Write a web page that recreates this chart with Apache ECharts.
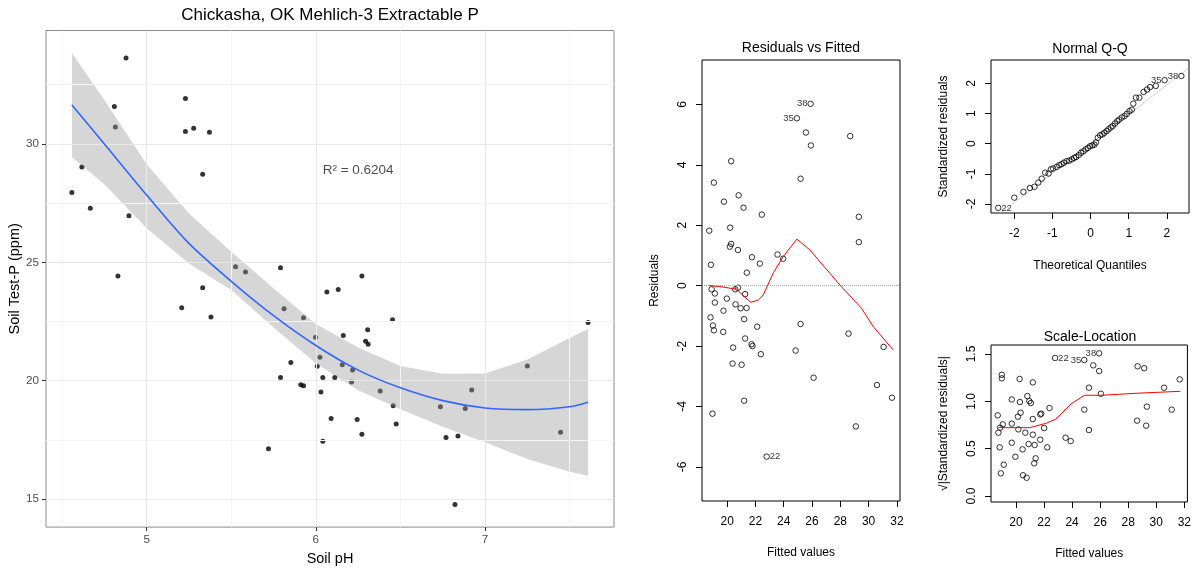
<!DOCTYPE html>
<html><head><meta charset="utf-8">
<script src="https://cdn.jsdelivr.net/npm/echarts@6/dist/echarts.min.js"></script>
<style>html,body{margin:0;padding:0;background:#fff}#c{width:1194px;height:571px}</style>
</head><body><div id="c"></div>
<script>
// ---------- Main panel: Soil pH vs Soil Test-P ----------
const mainTitle = 'Chickasha, OK Mehlich-3 Extractable P';
const mainPoints = [
  [4.558,27.95],[4.617,29.03],[4.667,27.28],[4.878,33.63],[4.809,31.58],[4.815,30.72],[4.895,26.97],[4.830,24.42],
  [5.229,31.92],[5.229,30.53],[5.278,30.66],[5.371,30.49],[5.331,28.72],[5.331,23.93],[5.525,24.81],[5.584,24.59],
  [5.791,24.77],[6.065,23.75],[6.132,23.85],[5.207,23.08],[5.380,22.69],[5.812,23.04],[5.927,22.66],[5.998,21.84],
  [6.024,20.99],[6.008,20.61],[6.041,20.14],[6.112,20.14],[5.852,20.77],[5.791,20.14],[5.911,19.83],[5.927,19.79],
  [6.030,19.53],[6.090,18.41],[6.041,17.44],[5.720,17.13],[6.272,24.42],[6.162,21.91],[6.156,20.68],[6.217,20.45],
  [6.211,19.95],[6.244,18.36],[6.272,17.74],[6.306,22.15],[6.294,21.67],[6.309,21.54],[6.453,22.58],[6.380,19.57],
  [6.457,18.94],[6.475,18.17],[6.736,18.90],[6.769,17.60],[6.840,17.67],[6.822,14.77],[6.883,18.83],[6.921,19.61],
  [7.250,20.62],[7.446,17.82],[7.609,22.46]
];
const fitX      = [4.558, 4.75, 5.0, 5.25, 5.5, 5.75, 6.0, 6.25, 6.5, 6.75, 7.0, 7.25, 7.5, 7.609];
const fitY      = [31.64, 30.0, 27.84, 25.8, 24.2, 22.75, 21.49, 20.45, 19.7, 19.16, 18.85, 18.78, 18.9, 19.09];
const bandUpper = [33.84, 31.85, 29.14, 27.06, 25.45, 23.91, 22.4, 21.4, 20.62, 20.3, 20.31, 20.9, 21.8, 22.19];
const bandLower = [29.44, 28.3, 26.44, 24.95, 23.83, 22.25, 20.74, 19.6, 18.8, 18.06, 17.4, 16.7, 16.16, 15.98];
const mainXTicks = [5, 6, 7];
const mainYTicks = [15, 20, 25, 30];
const mainXMinor = [4.5, 5.5, 6.5, 7.5];
const mainYMinor = [17.5, 22.5, 27.5, 32.5];
const r2Text = 'R² = 0.6204';
const r2Pos = [6.25, 28.9];

// ---------- Residuals vs Fitted ----------
const rvfPoints = [
  [25.90,6.02],[24.93,5.54],[25.57,5.07],[25.92,4.64],[28.70,4.95],[25.19,3.54],[20.28,4.12],[19.06,3.41],
  [19.77,2.78],[20.81,2.99],[21.16,2.58],[22.45,2.35],[18.73,1.82],[20.21,1.92],[29.31,2.28],[29.31,1.44],
  [20.28,1.38],[20.19,1.29],[20.76,1.18],[23.56,1.03],[23.96,0.89],[21.75,0.94],[22.31,0.73],[18.85,0.69],
  [21.39,0.43],[18.90,-0.12],[19.13,-0.26],[20.76,-0.07],[20.57,-0.12],[19.98,-0.43],[21.27,-0.28],[20.59,-0.62],
  [20.95,-0.75],[21.37,-0.74],[19.13,-0.56],[19.74,-0.83],[18.82,-1.05],[21.20,-1.11],[18.99,-1.32],[19.06,-1.48],
  [19.72,-1.53],[22.12,-1.36],[25.19,-1.27],[28.58,-1.59],[21.27,-1.75],[21.72,-1.94],[21.79,-2.0],[20.42,-2.05],
  [24.84,-2.15],[22.38,-2.27],[31.06,-2.03],[20.38,-2.58],[21.02,-2.62],[26.11,-3.05],[30.59,-3.29],[31.65,-3.71],
  [21.20,-3.81],[18.96,-4.24],[29.10,-4.66],[22.79,-5.66]
];
const rvfSmoothX = [18.73, 19.48, 20.66, 21.2, 21.68, 22.2, 22.55, 23.25, 23.96, 24.93, 25.85, 27.97, 29.5, 30.33, 31.74];
const rvfSmoothY = [0, -0.03, -0.12, -0.36, -0.55, -0.48, -0.31, 0.41, 0.96, 1.54, 1.18, 0.02, -0.75, -1.36, -2.13];
const rvfLabels = [['38', 25.90, 6.02, 'left'], ['35', 24.93, 5.54, 'left'], ['22', 22.79, -5.66, 'right']];
const fittedTicks = [20, 22, 24, 26, 28, 30, 32];
const residTicks = [-6, -4, -2, 0, 2, 4, 6];

// ---------- Normal Q-Q ----------
const qqTheo = [-2.42,-2.0,-1.76,-1.59,-1.47,-1.37,-1.28,-1.19,-1.10,-1.04,-0.98,-0.89,-0.82,-0.76,-0.70,-0.63,-0.56,-0.49,-0.43,-0.38,
  -0.31,-0.25,-0.19,-0.13,-0.07,-0.01,0.05,0.10,0.14,0.19,0.25,0.31,0.36,0.42,0.47,0.53,0.58,0.64,0.70,0.75,
  0.82,0.89,0.95,1.02,1.08,1.12,1.19,1.28,1.39,1.48,1.56,1.71,1.94,2.38];
const qqStd = [-2.13,-1.79,-1.60,-1.47,-1.43,-1.29,-1.16,-0.96,-0.99,-0.85,-0.82,-0.77,-0.71,-0.68,-0.63,-0.58,-0.56,-0.52,-0.47,-0.44,
  -0.38,-0.30,-0.25,-0.19,-0.14,-0.08,-0.05,-0.03,0.04,0.20,0.28,0.31,0.36,0.42,0.48,0.54,0.59,0.67,0.75,0.80,
  0.87,0.92,0.99,1.08,1.13,1.33,1.53,1.53,1.72,1.80,1.88,1.92,2.11,2.25];
const qqLine = [[-2.61, -2.55], [2.58, 2.52]];
const qqLabels = [['22', -2.42, -2.13, 'right'], ['35', 1.94, 2.11, 'left'], ['38', 2.38, 2.25, 'left']];
const qqTicks = [-2, -1, 0, 1, 2];

// ---------- Scale-Location ----------
const slPoints = [
  [22.79,1.458],[24.87,1.437],[25.93,1.507],[25.51,1.38],[25.93,1.32],[25.2,1.144],[26.05,1.08],[28.67,1.37],
  [29.14,1.35],[30.56,1.144],[31.67,1.232],[31.1,0.912],[29.33,0.944],[28.63,0.796],[29.28,0.743],[24.87,0.912],
  [25.2,0.697],[23.54,0.616],[23.9,0.58],[18.99,1.28],[18.99,1.243],[20.26,1.236],[21.2,1.2],[19.7,1.02],
  [20.28,0.993],[20.81,1.056],[20.95,1.003],[21.06,0.982],[22.39,0.93],[18.7,0.852],[20.14,0.838],[20.33,0.88],
  [21.73,0.862],[21.8,0.87],[21.2,0.813],[19.06,0.757],[19.7,0.764],[18.87,0.722],[20.17,0.704],[22.01,0.718],
  [18.75,0.669],[20.67,0.669],[21.2,0.648],[19.7,0.563],[21.73,0.595],[20.9,0.549],[21.33,0.539],[18.84,0.514],
  [20.47,0.493],[22.23,0.514],[19.96,0.415],[21.4,0.398],[21.3,0.345],[19.13,0.331],[18.92,0.24],[20.5,0.219],
  [20.76,0.193]
];
const slSmoothX = [18.75, 20.97, 22.15, 22.86, 23.92, 24.87, 26.05, 28.53, 31.72];
const slSmoothY = [0.722, 0.722, 0.768, 0.813, 0.972, 1.064, 1.064, 1.085, 1.106];
const slLabels = [['22', 22.79, 1.458, 'right'], ['35', 24.87, 1.437, 'left'], ['38', 25.93, 1.507, 'left']];
const slTicks = [0, 0.5, 1, 1.5];

// ---------- build ----------
const FONT = '"Liberation Sans", Arial, sans-serif';
const zip = (xs, ys) => xs.map((x, i) => [x, ys[i]]);

function rAxisX(idx, min, max, ticks, name, gap) {
  return {
    gridIndex: idx, type: 'value', min: min, max: max,
    axisLine: {show: false, onZero: false}, splitLine: {show: false},
    axisTick: {show: true, customValues: ticks, length: 6, lineStyle: {color: '#000', width: 1}},
    axisLabel: {customValues: ticks, color: '#000', fontSize: 12, fontFamily: FONT, margin: 15},
    name: name, nameLocation: 'middle', nameGap: gap,
    nameTextStyle: {color: '#000', fontSize: 12, fontFamily: FONT}
  };
}
function rAxisY(idx, min, max, ticks, name, fmt) {
  return {
    gridIndex: idx, type: 'value', min: min, max: max,
    axisLine: {show: false, onZero: false}, splitLine: {show: false},
    axisTick: {show: true, customValues: ticks, length: 6, lineStyle: {color: '#000', width: 1}},
    axisLabel: {customValues: ticks, color: '#000', fontSize: 12, fontFamily: FONT, margin: 13, rotate: 90, formatter: fmt},
    name: name, nameLocation: 'middle', nameGap: 41,
    nameTextStyle: {color: '#000', fontSize: 12, fontFamily: FONT}
  };
}
function rPoints(idx, data) {
  return {type: 'scatter', xAxisIndex: idx, yAxisIndex: idx, data: data, symbol: 'circle', symbolSize: 5.5,
    itemStyle: {color: 'rgba(0,0,0,0)', borderColor: '#000', borderWidth: 1}, silent: true, z: 3};
}
function rLabels(idx, labels) {
  return {type: 'scatter', xAxisIndex: idx, yAxisIndex: idx, symbolSize: 0, silent: true, z: 6,
    data: labels.map(l => ({value: [l[1], l[2]],
      label: {show: true, formatter: l[0], position: l[3], distance: 3, color: '#000', fontSize: 9.5, fontFamily: FONT}}))};
}
function redLine(idx, xs, ys) {
  return {type: 'line', xAxisIndex: idx, yAxisIndex: idx, data: zip(xs, ys), symbol: 'none', silent: true, z: 5,
    lineStyle: {color: '#ff0000', width: 1}};
}
function gridLines(values, axisKey, color, width) {
  return {type: 'line', xAxisIndex: 0, yAxisIndex: 0, data: [], silent: true, z: 1,
    markLine: {silent: true, symbol: ['none', 'none'], label: {show: false}, animation: false,
      lineStyle: {color: color, width: width, type: 'solid'},
      emphasis: {disabled: true},
      data: values.map(v => ({[axisKey]: v}))}};
}

const option = {
  animation: false,
  backgroundColor: '#fff',
  textStyle: {fontFamily: FONT},
  grid: [
    {left: 46, top: 30.5, width: 568, height: 501, show: true, backgroundColor: '#fff', borderColor: '#8c8c8c', borderWidth: 1},
    {left: 702, top: 60, width: 198, height: 441, show: true, backgroundColor: 'transparent', borderColor: '#000', borderWidth: 1},
    {left: 991, top: 60, width: 198, height: 153, show: true, backgroundColor: 'transparent', borderColor: '#000', borderWidth: 1},
    {left: 991, top: 345, width: 198, height: 157, show: true, backgroundColor: 'transparent', borderColor: '#000', borderWidth: 1}
  ],
  xAxis: [
    {gridIndex: 0, type: 'value', min: 4.405, max: 7.762,
      axisLine: {show: false, onZero: false}, splitLine: {show: false},
      axisTick: {show: true, customValues: mainXTicks, length: 4, lineStyle: {color: '#333'}},
      axisLabel: {customValues: mainXTicks, color: '#4d4d4d', fontSize: 11.7, fontFamily: FONT, margin: 7},
      name: 'Soil pH', nameLocation: 'middle', nameGap: 22,
      nameTextStyle: {color: '#000', fontSize: 14.5, fontFamily: FONT}},
    rAxisX(1, 18.22, 32.22, fittedTicks, 'Fitted values', 46),
    rAxisX(2, -2.61, 2.58, qqTicks, 'Theoretical Quantiles', 47),
    rAxisX(3, 18.22, 32.22, fittedTicks, 'Fitted values', 46)
  ],
  yAxis: [
    {gridIndex: 0, type: 'value', min: 13.82, max: 34.79,
      axisLine: {show: false, onZero: false}, splitLine: {show: false},
      axisTick: {show: true, customValues: mainYTicks, length: 4, lineStyle: {color: '#333'}},
      axisLabel: {customValues: mainYTicks, color: '#4d4d4d', fontSize: 11.7, fontFamily: FONT, margin: 7},
      name: 'Soil Test-P (ppm)', nameLocation: 'middle', nameGap: 20,
      nameTextStyle: {color: '#000', fontSize: 14.5, fontFamily: FONT}},
    rAxisY(1, -7.13, 7.47, residTicks, 'Residuals'),
    rAxisY(2, -2.30, 2.78, qqTicks, 'Standardized residuals'),
    rAxisY(3, -0.063, 1.595, slTicks, '√|Standardized residuals|', v => v.toFixed(1))
  ],
  graphic: [
    {type: 'text', x: 330, y: 15, style: {text: mainTitle, align: 'center', verticalAlign: 'middle', font: '17px ' + FONT, fill: '#000'}},
    {type: 'text', x: 801, y: 48, style: {text: 'Residuals vs Fitted', align: 'center', verticalAlign: 'middle', font: '14px ' + FONT, fill: '#000'}},
    {type: 'text', x: 1090, y: 49, style: {text: 'Normal Q-Q', align: 'center', verticalAlign: 'middle', font: '14px ' + FONT, fill: '#000'}},
    {type: 'text', x: 1090, y: 337, style: {text: 'Scale-Location', align: 'center', verticalAlign: 'middle', font: '14px ' + FONT, fill: '#000'}}
  ],
  series: [
    gridLines(mainXMinor, 'xAxis', '#f4f4f4', 1),
    gridLines(mainYMinor, 'yAxis', '#f4f4f4', 1),
    gridLines(mainXTicks, 'xAxis', '#e8e8e8', 1.2),
    gridLines(mainYTicks, 'yAxis', '#e8e8e8', 1.2),
    {type: 'scatter', xAxisIndex: 0, yAxisIndex: 0, data: mainPoints, symbolSize: 5, itemStyle: {color: '#000'}, silent: true, z: 3},
    {type: 'custom', xAxisIndex: 0, yAxisIndex: 0, silent: true, z: 4, data: [[fitX[0], fitY[0]]],
      renderItem: function (params, api) {
        const pts = [];
        for (let i = 0; i < fitX.length; i++) pts.push(api.coord([fitX[i], bandUpper[i]]));
        for (let i = fitX.length - 1; i >= 0; i--) pts.push(api.coord([fitX[i], bandLower[i]]));
        return {type: 'polygon', shape: {points: pts}, style: {fill: 'rgba(153,153,153,0.4)'}};
      }},
    {type: 'line', xAxisIndex: 0, yAxisIndex: 0, data: zip(fitX, fitY), symbol: 'none', smooth: 0.3, silent: true, z: 5,
      lineStyle: {color: '#3366FF', width: 1.6}},
    {type: 'scatter', xAxisIndex: 0, yAxisIndex: 0, data: [r2Pos], symbolSize: 0, silent: true, z: 6,
      label: {show: true, position: 'inside', formatter: r2Text, color: '#222', fontSize: 13.5, fontFamily: FONT}},

    // Residuals vs Fitted
    Object.assign(rPoints(1, rvfPoints), {markLine: {silent: true, symbol: ['none', 'none'], label: {show: false}, animation: false,
      lineStyle: {color: '#aaaaaa', width: 1, type: 'dotted'}, data: [{yAxis: 0}]}}),
    redLine(1, rvfSmoothX, rvfSmoothY),
    rLabels(1, rvfLabels),

    // Q-Q
    {type: 'line', xAxisIndex: 2, yAxisIndex: 2, data: qqLine, symbol: 'none', silent: true, clip: true, z: 2,
      lineStyle: {color: '#aaaaaa', width: 1, type: 'dotted'}},
    rPoints(2, zip(qqTheo, qqStd)),
    rLabels(2, qqLabels),

    // Scale-Location
    rPoints(3, slPoints),
    redLine(3, slSmoothX, slSmoothY),
    rLabels(3, slLabels)
  ]
};
const chart = echarts.init(document.getElementById('c'), null, {renderer: 'canvas'});
chart.setOption(option);
</script></body></html>
